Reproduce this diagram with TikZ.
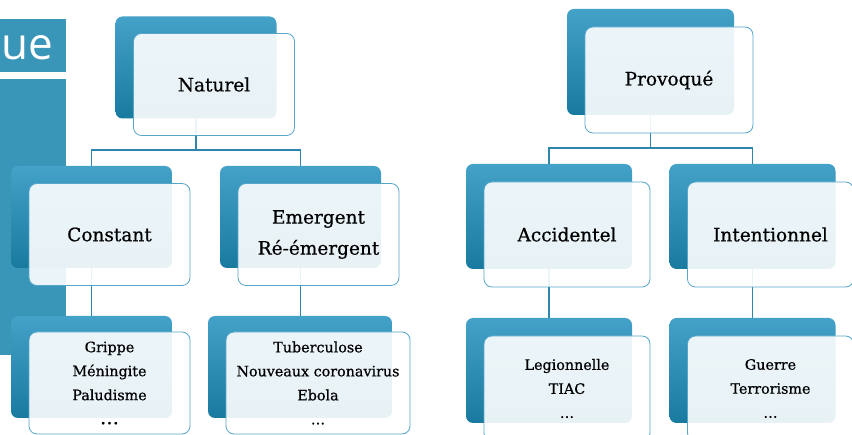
\documentclass[tikz,border=0pt]{standalone}
\usepackage{fontspec}
\setmainfont[FakeBold=0.6]{DejaVu Serif}
\newfontfamily\tabfont{Open Sans}
\usetikzlibrary{positioning}

\definecolor{panelblue}{RGB}{58,150,185}
\definecolor{shadetop}{RGB}{68,161,199}
\definecolor{shadebot}{RGB}{25,122,160}
\definecolor{rimblue}{RGB}{86,166,202}
\definecolor{linkblue}{RGB}{46,134,173}

\begin{document}
\begin{tikzpicture}[x=1pt, y=-1pt,
  back/.style={rounded corners=7pt, top color=shadetop, bottom color=shadebot,
    minimum width=161pt, minimum height=102pt, inner sep=0pt},
  wide/.style={minimum width=166pt, minimum height=105pt},
  front/.style={draw=rimblue, line width=0.8pt, rounded corners=8pt, fill=white,
    fill opacity=0.9, text opacity=1, minimum width=161pt, minimum height=102pt,
    inner sep=0pt, align=center, font=\fontsize{18.5}{31}\selectfont},
  leaf/.style={front, font=\fontsize{14.3}{24}\selectfont},
  link/.style={draw=linkblue, line width=1.1pt}]
    \useasboundingbox[fill=white] (0,0) rectangle (852,435);
    % slide panel on the left
    \fill[panelblue] (0,19) rectangle (66,72);
    \fill[panelblue] (0,79) rectangle (66,355);
    \node[text=white, font=\tabfont\fontsize{44}{44}\selectfont, anchor=base west, inner sep=0pt] (tab) at (1,60) {ue};
    % back boxes
    \node[back] (nat) at (196,67.5) {};
    \node[back] (con) at (91.5,217) {};
    \node[back] (eme) at (300.5,217) {};
    \node[back] (gri) at (91.5,367) {};
    \node[back, minimum width=184pt] (tub) at (300,367) {};
    \node[back, minimum width=167pt, minimum height=106pt] (pro) at (650.5,62) {};
    \node[back, wide] (acc) at (549,216.5) {};
    \node[back, wide] (int) at (752.5,216.5) {};
    \node[back, wide] (leg) at (549,370.5) {};
    \node[back, wide] (gue) at (752.5,370.5) {};
    % links
    \coordinate (natbr) at (196,150);
    \coordinate (probr) at (650.5,148);
    \draw[link] (nat.south) -- (natbr);
    \draw[link] (con.north) |- (natbr) -| (eme.north);
    \draw[link] (con.south) -- (gri.north);
    \draw[link] (eme.south) -- (eme.south |- tub.north);
    \draw[link] (pro.south) -- (probr);
    \draw[link] (acc.north) |- (probr) -| (int.north);
    \draw[link] (acc.south) -- (leg.north);
    \draw[link] (int.south) -- (gue.north);
    % front boxes
    \node[front] (natf) at ([shift={(18,17)}]nat.center) {Naturel};
    \node[front] (conf) at ([shift={(18,17.5)}]con.center) {Constant};
    \node[front] (emef) at ([shift={(18,17.5)}]eme.center) {Emergent\\Ré-émergent};
    \node[leaf] (grif) at ([shift={(18,16)}]gri.center) {Grippe\\Méningite\\Paludisme\\{\fontsize{19}{31}\selectfont …}};
    \node[leaf, minimum width=184pt] (tubf) at ([shift={(18,16)}]tub.center) {Tuberculose\\Nouveaux coronavirus\\Ebola\\…};
    \node[front, minimum width=168pt, minimum height=106pt] (prof) at ([shift={(18.5,18)}]pro.center) {Provoqué};
    \node[front, wide] (accf) at ([shift={(18,18)}]acc.center) {Accidentel};
    \node[front, wide] (intf) at ([shift={(18,18)}]int.center) {Intentionnel};
    \node[leaf, wide] (legf) at ([shift={(18,18)}]leg.center) {Legionnelle\\TIAC\\…};
    \node[leaf, wide] (guef) at ([shift={(18,18)}]gue.center) {Guerre\\Terrorisme\\…};
\end{tikzpicture}
\end{document}
